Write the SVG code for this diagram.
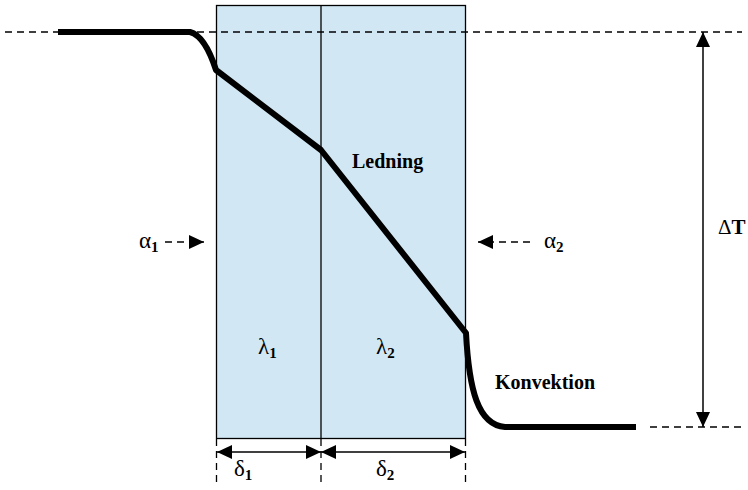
<svg xmlns="http://www.w3.org/2000/svg" width="748" height="490" viewBox="0 0 748 490">
<style>
.dash{stroke:#000;stroke-width:1.3;stroke-dasharray:7,5;fill:none}
.thin{stroke:#000;stroke-width:1.5;fill:none}
.b{font-weight:bold}
</style>
<defs>
<marker id="ah" markerWidth="15" markerHeight="14" refX="15" refY="7" orient="auto" markerUnits="userSpaceOnUse">
<path d="M0,0 L15,7 L0,14 Z" fill="#000"/>
</marker>
<marker id="ahs" markerWidth="15" markerHeight="14" refX="0" refY="7" orient="auto" markerUnits="userSpaceOnUse">
<path d="M15,0 L0,7 L15,14 Z" fill="#000"/>
</marker>
</defs>
<g id="walls">
<rect x="216.5" y="5.5" width="249" height="433" fill="#d1e8f4" stroke="#000" stroke-width="1.3"/>
<line x1="321" y1="5.5" x2="321" y2="438.5" stroke="#000" stroke-width="1.3"/>
</g>
<g id="connectors">
<line class="dash" x1="5" y1="32" x2="742" y2="32"/>
<line class="dash" x1="650" y1="427" x2="742" y2="427"/>
<path d="M58,32 H190 Q205,36 216,70 L321,150 L466,333 C469,390 478,425 505,427 H636" fill="none" stroke="#000" stroke-width="6" stroke-linejoin="round"/>
<line class="thin" x1="703" y1="32" x2="703" y2="427" marker-start="url(#ahs)" marker-end="url(#ah)"/>
<line class="dash" x1="165" y1="242" x2="204" y2="242" stroke-dasharray="5,4" marker-end="url(#ah)"/>
<line class="dash" x1="530" y1="242" x2="478" y2="242" stroke-dasharray="5,4" marker-end="url(#ah)"/>
<line class="thin" x1="217" y1="452" x2="321" y2="452" marker-start="url(#ahs)" marker-end="url(#ah)"/>
<line class="thin" x1="321" y1="452" x2="465" y2="452" marker-start="url(#ahs)" marker-end="url(#ah)"/>
<line class="dash" x1="216.5" y1="439" x2="216.5" y2="482" stroke-dasharray="6,5"/>
<line class="dash" x1="321" y1="439" x2="321" y2="482" stroke-dasharray="6,5"/>
<line class="dash" x1="465.5" y1="439" x2="465.5" y2="482" stroke-dasharray="6,5"/>
</g>
<g id="labels" font-family="'Liberation Serif', 'DejaVu Serif', serif" fill="#000">
<text class="b" x="352" y="168" font-size="20">Ledning</text>
<text class="b" x="495" y="389" font-size="20">Konvektion</text>
<text x="718" y="234" font-size="21">Δ<tspan class="b">T</tspan></text>
<text x="139" y="248" font-size="23">α<tspan font-size="15" dy="4" class="b">1</tspan></text>
<text x="544" y="248" font-size="23">α<tspan font-size="15" dy="4" class="b">2</tspan></text>
<text x="258" y="354" font-size="23">λ<tspan font-size="15" dy="4" class="b">1</tspan></text>
<text x="376" y="354" font-size="23">λ<tspan font-size="15" dy="4" class="b">2</tspan></text>
<text x="234" y="476" font-size="23">δ<tspan font-size="15" dy="4" class="b">1</tspan></text>
<text x="376" y="476" font-size="23">δ<tspan font-size="15" dy="4" class="b">2</tspan></text>
</g>
</svg>
